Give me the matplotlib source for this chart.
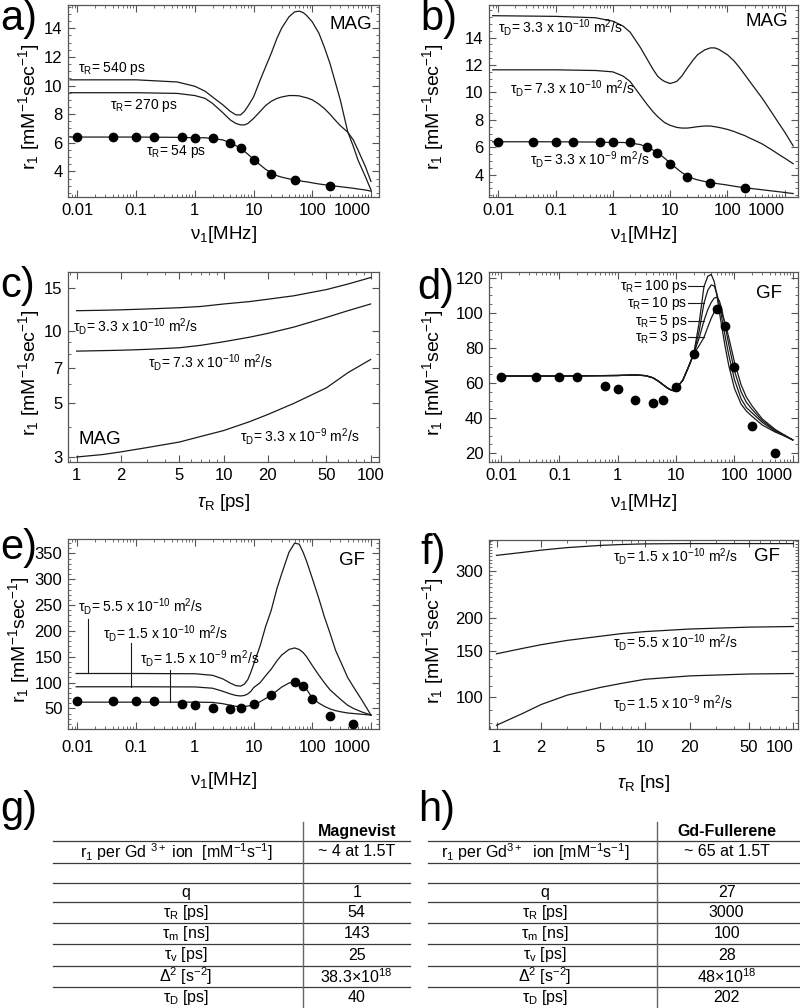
import numpy as np
import matplotlib
matplotlib.use('Agg')
import matplotlib.pyplot as plt
from matplotlib.ticker import LogLocator, NullFormatter, MultipleLocator

plt.rcParams['font.family'] = ['Liberation Sans', 'DejaVu Sans']
plt.rcParams['mathtext.fontset'] = 'custom'
plt.rcParams['mathtext.rm'] = 'Liberation Sans'
plt.rcParams['mathtext.it'] = 'Liberation Sans:italic'
plt.rcParams['mathtext.bf'] = 'Liberation Sans:bold'

# ---------------- measured points (NMRD profiles) ----------------
nu_mag = [0.01, 0.04, 0.1, 0.2, 0.6, 1, 2, 4, 6, 10, 20, 50, 200]
r1_mag = [6.4, 6.4, 6.4, 6.4, 6.4, 6.35, 6.35, 6.0, 5.6, 4.8, 3.85, 3.4, 3.0]

nu_gf = [0.01, 0.04, 0.1, 0.2, 0.6, 1, 2, 4, 6, 10, 20, 50, 70, 100, 200, 500]
r1_gf = [63.5, 63.5, 63.5, 63.5, 58.5, 56.5, 50.5, 48.5, 50.5, 57.5, 76.5, 102, 92.5, 69, 35.5, 20]

# ---------------- a) MAG, tau_R series ----------------
freq_a = [0.0075, 0.1, 0.5, 1, 1.5, 2, 3, 4, 5, 6, 7, 8, 10, 13, 16, 20, 25, 30, 40, 50,
          60, 70, 80, 100, 130, 160, 200, 250, 300, 400, 500, 600, 800, 1000]
r1_a_540 = [10.4, 10.4, 10.25, 9.95, 9.6, 9.2, 8.65, 8.2, 7.95, 7.95, 8.2, 8.55, 9.2, 10.4, 11.3,
            12.25, 13.3, 14.0, 14.8, 15.15, 15.2, 15.1, 14.9, 14.45, 13.65, 12.7, 11.55, 10.15,
            9.0, 6.8, 5.75, 4.8, 3.65, 2.7]
r1_a_270 = [9.5, 9.5, 9.45, 9.3, 9.1, 8.75, 8.1, 7.6, 7.35, 7.25, 7.25, 7.35, 7.7, 8.2, 8.6,
            8.9, 9.1, 9.2, 9.3, 9.3, 9.28, 9.2, 9.15, 9.0, 8.7, 8.4, 8.0, 7.55, 7.2, 6.75, 6.2,
            5.5, 4.35, 3.3]
r1_a_54 = [6.4, 6.4, 6.38, 6.35, 6.35, 6.3, 6.2, 6.0, 5.8, 5.6, 5.4, 5.2, 4.85, 4.45, 4.15,
           3.9, 3.7, 3.6, 3.48, 3.4, 3.35, 3.3, 3.27, 3.2, 3.12, 3.07, 3.02, 2.97, 2.93, 2.87,
           2.82, 2.77, 2.7, 2.62]

# ---------------- b) MAG, diffusion series ----------------
freq_b = [0.008, 0.1, 0.5, 1, 1.5, 2, 3, 4, 5, 6, 7, 8, 10, 13, 16, 20, 25, 30, 40, 50,
          60, 70, 80, 100, 130, 160, 200, 250, 300, 400, 500, 600, 800, 1000, 1400]
r1_b_33e10 = [15.6, 15.55, 15.45, 15.2, 14.85, 14.4, 13.3, 12.4, 11.7, 11.2, 10.95, 10.8, 10.65,
              10.8, 11.2, 11.8, 12.35, 12.75, 13.1, 13.25, 13.25, 13.15, 13.0, 12.75, 12.3, 11.85,
              11.3, 10.75, 10.3, 9.6, 9.0, 8.5, 7.7, 7.1, 6.1]
r1_b_73e10 = [11.65, 11.65, 11.6, 11.5, 11.2, 10.8, 9.8, 9.1, 8.6, 8.25, 8.0, 7.8, 7.6, 7.45,
              7.4, 7.4, 7.45, 7.5, 7.55, 7.55, 7.5, 7.45, 7.4, 7.3, 7.15, 7.0, 6.85, 6.65, 6.5,
              6.25, 6.0, 5.8, 5.45, 5.2, 4.8]
r1_b_33e9 = [6.4, 6.4, 6.38, 6.35, 6.35, 6.3, 6.2, 6.0, 5.8, 5.6, 5.4, 5.2, 4.85, 4.45, 4.15,
             3.9, 3.72, 3.62, 3.5, 3.43, 3.38, 3.33, 3.3, 3.24, 3.16, 3.1, 3.05, 3.0, 2.96, 2.9,
             2.85, 2.81, 2.75, 2.7, 2.62]

# ---------------- c) MAG vs tau_R ----------------
tau_c = [1, 1.5, 2, 3, 5, 7, 10, 15, 20, 30, 50, 70, 100]
r1_c_33e10 = [12.1, 12.15, 12.2, 12.3, 12.45, 12.6, 12.9, 13.2, 13.5, 13.95, 14.8, 15.6, 16.6]
r1_c_73e10 = [8.23, 8.27, 8.3, 8.37, 8.5, 8.7, 9.0, 9.4, 9.75, 10.35, 11.35, 12.1, 12.9]
r1_c_33e9 = [3.0, 3.07, 3.15, 3.28, 3.46, 3.65, 3.86, 4.2, 4.5, 5.0, 5.8, 6.7, 7.6]

# ---------------- d) GF, tau_R series ----------------
freq_d = [0.009, 0.1, 1, 2, 3, 4, 5, 6, 7, 8, 9, 10, 13, 16, 20, 25, 30, 35, 40, 45, 50, 55,
          60, 70, 80, 100, 130, 160, 200, 300, 500, 700, 1000]
r1_d_100 = [64, 64, 64.3, 64.6, 64.2, 63, 61, 59, 57.3, 56.2, 55.6, 57, 61.5, 68.5, 76.5,
            95, 115, 121, 122, 118, 110, 101, 93, 80, 70, 57, 48, 44, 41, 36, 32, 30, 27.5]
r1_d_10 = [64, 64, 64.3, 64.6, 64.2, 63, 61, 59, 57.3, 56.2, 55.6, 57, 61.5, 68.5, 76.5,
           90, 105.5, 113, 116, 115.5, 111, 105, 98, 86, 76, 62, 51, 46, 43, 37.5, 32.5, 30, 27.5]
r1_d_5 = [64, 64, 64.3, 64.6, 64.2, 63, 61, 59, 57.3, 56.2, 55.6, 57, 61.5, 68.5, 76.5,
          86, 95.5, 102, 106, 108.5, 109, 107, 103, 92, 82, 67, 55, 49, 45, 38.5, 33, 30.5, 27.5]
r1_d_3 = [64, 64, 64.3, 64.6, 64.2, 63, 61, 59, 57.3, 56.2, 55.6, 57, 61.5, 68.5, 76.5,
          81.5, 86, 92, 97, 100.5, 102.5, 102.5, 100, 94, 86, 72, 59, 52, 47, 39.5, 33.5, 30.5, 27.5]

# ---------------- e) GF, diffusion series ----------------
freq_e = [0.0095, 0.1, 1, 2, 3, 4, 5, 6, 7, 8, 9, 10, 13, 16, 20, 25, 30, 40, 50, 60, 70, 80,
          100, 130, 160, 200, 250, 300, 400, 500, 700, 1000]
r1_e_55e10 = [117.5, 117.5, 117, 114, 107, 99, 94, 93, 97, 106, 120, 135, 172, 208, 240, 282,
              310, 352, 370, 368, 352, 335, 302, 262, 228, 196, 162, 142, 110, 92, 66, 37]
r1_e_15e10 = [91.8, 91.8, 91.5, 89, 83, 78, 75, 74, 75, 78, 83, 90, 100, 113, 126, 142, 153,
              164, 167, 164, 158, 150, 133, 114, 100, 86, 76, 68, 56, 50, 43, 37]
r1_e_15e9 = [62, 62, 62, 61.5, 59, 56, 54, 53, 53.5, 54.5, 55.5, 57, 63, 69, 76, 84, 91, 99,
             101.5, 99, 93, 87, 70, 60, 54, 49, 45.5, 43.5, 41, 40, 38.5, 37]

# ---------------- f) GF vs tau_R ----------------
tau_f = [1, 1.5, 2, 3, 5, 7, 10, 20, 50, 100]
r1_f_15e10 = [343, 352, 359, 367, 374, 377, 379, 380, 380, 380]
r1_f_55e10 = [146, 153, 158, 164, 170, 174, 177, 181, 184, 185]
r1_f_15e9 = [78.5, 87, 94, 102, 109, 113, 117, 120.5, 122.5, 123]

# ---------------- tables g) and h) ----------------
row_names = ['r$_1$ per Gd $^{3+}$ ion  [mM$^{-1}$s$^{-1}$]', '', 'q',
             'τ$_{\\rm R}$ [ps]', 'τ$_{\\rm m}$ [ns]', 'τ$_{\\rm v}$ [ps]',
             'Δ$^2$ [s$^{-2}$]', 'τ$_{\\rm D}$ [ps]']
row_names_h = ['r$_1$ per Gd$^{3+}$  ion [mM$^{-1}$s$^{-1}$]'] + row_names[1:]
magnevist = ['~ 4 at 1.5T', '', '1', '54', '143', '25', '38.3×10$^{18}$', '40']
fullerene = ['~ 65 at 1.5T', '', '27', '3000', '100', '28', '48×10$^{18}$', '202']

mhz_ticks = [0.01, 0.1, 1, 10, 100, 1000]
mhz_labels = ['0.01', '0.1', '1', '10', '100', '1000']
tau_ticks = [1, 2, 5, 10, 20, 50, 100]
tau_labels = ['1', '2', '5', '10', '20', '50', '100']

YLAB = 'r$_1$ [mM$^{-1}$sec$^{-1}$]'
YSIZE = 14
YPOS = 0.47
LC = '#1a1a1a'
FRAME = '#555555'

fig = plt.figure(figsize=(8, 10.08), dpi=100)


def add_ax(l, t, r, b):
    return fig.add_axes([l / 800, 1 - b / 1008, (r - l) / 800, (b - t) / 1008])


def style(ax, xpad=4):
    for sp in ax.spines.values():
        sp.set_color(FRAME)
        sp.set_linewidth(0.9)
    ax.tick_params(which='both', direction='in', top=True, right=True,
                   color=FRAME, labelsize=12)
    ax.tick_params(which='major', length=5, width=0.8, pad=4)
    ax.tick_params(axis='x', which='major', pad=xpad)
    ax.tick_params(which='minor', length=2.5, width=0.6)


def mhz_axis(ax, xlim):
    ax.set_xscale('log')
    ax.set_xlim(*xlim)
    ax.set_xticks(mhz_ticks)
    labs = ax.set_xticklabels(mhz_labels)
    labs[-1].set_horizontalalignment('right')
    ax.xaxis.set_minor_locator(LogLocator(base=10, subs=np.arange(2, 10), numticks=40))
    ax.xaxis.set_minor_formatter(NullFormatter())
    ax.set_xlabel('ν$_1$[MHz]', fontsize=13.5, va='top')


def tau_axis(ax, xlim, unit, right_last=False):
    ax.set_xscale('log')
    ax.set_xlim(*xlim)
    ax.set_xticks(tau_ticks)
    labs = ax.set_xticklabels(tau_labels)
    if right_last:
        labs[-1].set_horizontalalignment('right')
    ax.xaxis.set_minor_locator(LogLocator(base=10, subs=np.arange(2, 10), numticks=40))
    ax.xaxis.set_minor_formatter(NullFormatter())
    ax.set_xlabel('$\\tau_{\\rm R}$ [' + unit + ']', fontsize=13.5, va='top')


# ======== a) ========
ax = add_ax(68, 5, 379, 197)
style(ax)
for r1 in (r1_a_540, r1_a_270, r1_a_54):
    ax.plot(freq_a, r1, color=LC, lw=0.9)
ax.plot(nu_mag, r1_mag, 'o', color='black', ms=6, zorder=5)
mhz_axis(ax, (0.0069, 1370))
ax.set_ylim(2.21, 15.63)
ax.set_yticks([4, 6, 8, 10, 12, 14])
ax.yaxis.set_minor_locator(MultipleLocator(0.5))
ax.set_ylabel(YLAB, fontsize=YSIZE)
ax.yaxis.set_label_coords(-0.083, YPOS)
ax.xaxis.set_label_coords(0.5, -0.141)
ax.text(0.0103, 11.2, 'τ$_{\\rm R}$= 540 ps', fontsize=10, va='center')
ax.text(0.0355, 8.6, 'τ$_{\\rm R}$= 270 ps', fontsize=10, va='center')
ax.text(0.15, 5.4, 'τ$_{\\rm R}$= 54 ps', fontsize=10, va='center')
ax.text(0.977, 0.90, 'MAG', transform=ax.transAxes, fontsize=13.5, ha='right', va='center')

# ======== b) ========
ax = add_ax(489, 5, 798, 197)
style(ax)
for r1 in (r1_b_33e10, r1_b_73e10, r1_b_33e9):
    ax.plot(freq_b, r1, color=LC, lw=0.9)
ax.plot(nu_mag, r1_mag, 'o', color='black', ms=6, zorder=5)
mhz_axis(ax, (0.0069, 1700))
ax.set_ylim(2.37, 16.38)
ax.set_yticks([4, 6, 8, 10, 12, 14])
ax.yaxis.set_minor_locator(MultipleLocator(0.5))
ax.set_ylabel(YLAB, fontsize=YSIZE)
ax.yaxis.set_label_coords(-0.14, YPOS)
ax.xaxis.set_label_coords(0.5, -0.141)
ax.text(0.0099, 14.75, 'τ$_{\\rm D}$= 3.3 x 10$^{-10}$ m$^2$/s', fontsize=10, va='center')
ax.text(0.0158, 10.3, 'τ$_{\\rm D}$= 7.3 x 10$^{-10}$ m$^2$/s', fontsize=10, va='center')
ax.text(0.0352, 5.14, 'τ$_{\\rm D}$= 3.3 x 10$^{-9}$ m$^2$/s', fontsize=10, va='center')
ax.text(0.968, 0.913, 'MAG', transform=ax.transAxes, fontsize=13.5, ha='right', va='center')

# ======== c) ========
ax = add_ax(68, 272, 379, 462)
style(ax)
for r1 in (r1_c_33e10, r1_c_73e10, r1_c_33e9):
    ax.plot(tau_c, r1, color=LC, lw=0.9)
tau_axis(ax, (0.873, 114), 'ps')
ax.set_yscale('log')
ax.set_ylim(2.86, 17.5)
ax.set_yticks([3, 5, 7, 10, 15])
ax.set_yticklabels(['3', '5', '7', '10', '15'])
ax.yaxis.set_minor_locator(LogLocator(base=10, subs=np.arange(2, 10), numticks=40))
ax.yaxis.set_minor_formatter(NullFormatter())
ax.set_ylabel(YLAB, fontsize=YSIZE)
ax.yaxis.set_label_coords(-0.083, YPOS)
ax.xaxis.set_label_coords(0.5, -0.158)
ax.text(0.95, 10.4, 'τ$_{\\rm D}$= 3.3 x 10$^{-10}$ m$^2$/s', fontsize=10, va='center')
ax.text(3.07, 7.4, 'τ$_{\\rm D}$= 7.3 x 10$^{-10}$ m$^2$/s', fontsize=10, va='center')
ax.text(12.9, 3.63, 'τ$_{\\rm D}$= 3.3 x 10$^{-9}$ m$^2$/s', fontsize=10, va='center')
ax.text(1.03, 3.53, 'MAG', fontsize=13.5, va='center')

# ======== d) ========
ax = add_ax(489, 272, 798, 462)
style(ax)
for r1 in (r1_d_100, r1_d_10, r1_d_5, r1_d_3):
    ax.plot(freq_d, r1, color=LC, lw=0.9)
ax.plot(nu_gf, r1_gf, 'o', color='black', ms=6, zorder=5)
mhz_axis(ax, (0.0062, 1230))
ax.set_ylim(14.9, 123.4)
ax.set_yticks([20, 40, 60, 80, 100, 120])
ax.yaxis.set_minor_locator(MultipleLocator(5))
ax.set_ylabel(YLAB, fontsize=YSIZE)
ax.yaxis.set_label_coords(-0.14, YPOS)
ax.xaxis.set_label_coords(0.5, -0.158)
for lab, y in (('100', 115.4), ('10', 105.5), ('5', 95.4), ('3', 86.1)):
    ax.plot([16.3, 30], [y, y], color=LC, lw=0.8)
    ax.text(15.8, y, 'τ$_{\\rm R}$= ' + lab + ' ps', fontsize=10, ha='right', va='center')
ax.text(0.947, 0.888, 'GF', transform=ax.transAxes, fontsize=13.5, ha='right', va='center')

# ======== e) ========
ax = add_ax(68, 539, 379, 729)
style(ax, xpad=8)
for r1 in (r1_e_55e10, r1_e_15e10, r1_e_15e9):
    ax.plot(freq_e, r1, color=LC, lw=0.9)
ax.plot(nu_gf, r1_gf, 'o', color='black', ms=6, zorder=5)
mhz_axis(ax, (0.0069, 1370))
ax.set_ylim(10, 378)
ax.set_yticks([50, 100, 150, 200, 250, 300, 350])
ax.yaxis.set_minor_locator(MultipleLocator(10))
ax.set_ylabel(YLAB, fontsize=YSIZE)
ax.yaxis.set_label_coords(-0.115, YPOS)
ax.xaxis.set_label_coords(0.5, -0.216)
for x0, ytop, ycurve, xt, yt, lab in (
        (0.0152, 224, 117.5, 0.0102, 246.6, '5.5 x 10$^{-10}$'),
        (0.081, 176, 91.8, 0.027, 195.7, '1.5 x 10$^{-10}$'),
        (0.375, 124, 62, 0.115, 146.8, '1.5 x 10$^{-9}$')):
    ax.plot([x0, x0], [ytop, ycurve], color=LC, lw=0.8)
    ax.text(xt, yt, 'τ$_{\\rm D}$= ' + lab + ' m$^2$/s', fontsize=10, va='center')
ax.text(0.955, 0.888, 'GF', transform=ax.transAxes, fontsize=13.5, ha='right', va='center')

# ======== f) ========
ax = add_ax(489, 540, 798, 729)
style(ax, xpad=8)
for r1 in (r1_f_15e10, r1_f_55e10, r1_f_15e9):
    ax.plot(tau_f, r1, color=LC, lw=0.9)
tau_axis(ax, (0.89, 107.6), 'ns', right_last=True)
ax.set_yscale('log')
ax.set_ylim(76, 392)
ax.set_yticks([100, 150, 200, 300])
ax.set_yticklabels(['100', '150', '200', '300'])
ax.yaxis.set_minor_locator(MultipleLocator(10))
ax.yaxis.set_minor_formatter(NullFormatter())
ax.set_ylabel(YLAB, fontsize=YSIZE)
ax.yaxis.set_label_coords(-0.14, YPOS)
ax.xaxis.set_label_coords(0.5, -0.235)
ax.text(6.1, 340, 'τ$_{\\rm D}$= 1.5 x 10$^{-10}$ m$^2$/s', fontsize=10, va='center')
ax.text(6.1, 160.8, 'τ$_{\\rm D}$= 5.5 x 10$^{-10}$ m$^2$/s', fontsize=10, va='center')
ax.text(6.1, 95, 'τ$_{\\rm D}$= 1.5 x 10$^{-9}$ m$^2$/s', fontsize=10, va='center')
ax.text(0.942, 0.912, 'GF', transform=ax.transAxes, fontsize=13.5, ha='right', va='center')

# ======== tables ========
tab = fig.add_axes([0, 0, 1, 1])
tab.set_xlim(0, 800)
tab.set_ylim(1008, 0)
tab.axis('off')
line_y = [840.7, 863.3, 882.7, 902.3, 923, 944.3, 965.7, 987.3]
row_y = [851.7, 873, 892.5, 912.7, 933.7, 955, 976.5, 997.5]
TC = '#3a3a3a'
for x0, x1, xv, xname, xval, names, vals, head in (
        (53, 410, 303, 186, 356.7, row_names, magnevist, 'Magnevist'),
        (428, 800, 656.7, 545, 726.7, row_names_h, fullerene, 'Gd-Fullerene')):
    for y in line_y:
        tab.plot([x0, x1], [y, y], color=TC, lw=0.9)
    tab.plot([xv, xv], [822, 1008], color='#666666', lw=1.0)
    tab.text(xval, 831.7, head, fontsize=11.5, fontweight='bold', ha='center', va='center')
    for i, (nm, v) in enumerate(zip(names, vals)):
        xn = xname - 10 if i == 0 else xname
        tab.text(xn, row_y[i], nm, fontsize=11.5, ha='center', va='center')
        tab.text(xval, row_y[i], v, fontsize=11.5, ha='center', va='center')

# ======== panel letters ========
for lab, x, y in (('a)', 0, 30), ('b)', 420, 30), ('c)', 0, 297), ('d)', 417, 299),
                  ('e)', 0, 559), ('f)', 420, 564), ('g)', 0, 821), ('h)', 418, 821)):
    fig.text(x / 800, 1 - y / 1008, lab, fontsize=30, ha='left', va='baseline')

fig.savefig('out.png', dpi=100)
